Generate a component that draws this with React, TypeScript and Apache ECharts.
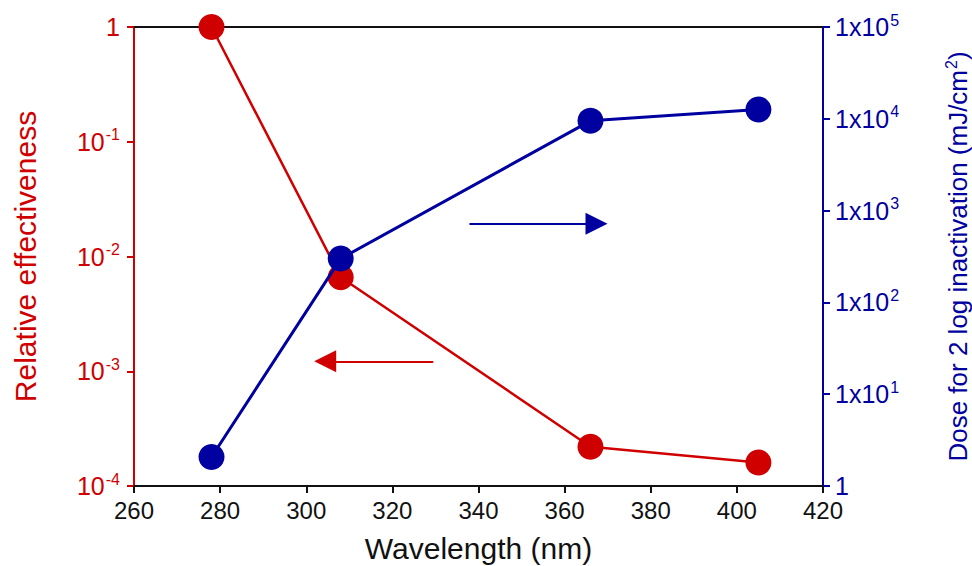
import React, { useEffect, useRef } from "react";
import * as echarts from "echarts";

const wavelengths = [278, 308, 366, 405];
const relativeEffectiveness = [1, 0.0066, 0.00022, 0.00016];
const doseFor2Log = [2.07, 300, 9500, 12600];

const xTicks = { min: 260, max: 420, interval: 20 };
const leftAxisRange = { min: 0.0001, max: 1 };
const rightAxisRange = { min: 1, max: 100000 };

// arrow annotations in data coordinates: tail x, head x, y
const redArrow = { from: 329.5, to: 304.4, y: 0.00122 };
const blueArrow = { from: 337.9, to: 367.4, y: 720 };

const RED = "#d00000";
const BLUE = "#0000a0";
const FONT = "Liberation Sans, Arial, sans-serif";

function supLeft(v: number): string {
  const e = Math.round(Math.log10(v));
  if (e === 0) return "{b|1}";
  return "{b|10}{s|" + e + "}";
}
function supRight(v: number): string {
  const e = Math.round(Math.log10(v));
  if (e === 0) return "{b|1}";
  return "{b|1x10}{s|" + e + "}";
}

export default function App() {
  const ref = useRef<HTMLDivElement>(null);
  useEffect(() => {
    if (!ref.current) return;
    const chart = echarts.init(ref.current, undefined, { renderer: "svg" });
    const richLabel = (color: string, size: number) => ({
      b: { fontSize: size, color, fontFamily: FONT },
      s: { fontSize: Math.round(size * 0.62), color, fontFamily: FONT, padding: [0, 0, 14, 1] },
    });
    chart.setOption({
      animation: false,
      backgroundColor: "#ffffff",
      grid: { left: 134, right: 149, top: 27, bottom: 80, outerBoundsMode: "none", containLabel: false },
      xAxis: [
        {
          type: "value",
          min: xTicks.min,
          max: xTicks.max,
          interval: xTicks.interval,
          position: "bottom",
          name: "Wavelength (nm)",
          nameLocation: "middle",
          nameGap: 47,
          nameTextStyle: { fontSize: 30, color: "#111", fontFamily: FONT },
          axisLine: { lineStyle: { color: "#111", width: 2 } },
          axisTick: { show: true, length: 7, lineStyle: { color: "#111", width: 2 } },
          axisLabel: { fontSize: 24, color: "#111", fontFamily: FONT, margin: 12 },
          splitLine: { show: false },
        },
        {
          type: "value",
          min: xTicks.min,
          max: xTicks.max,
          position: "top",
          axisLine: { lineStyle: { color: "#111", width: 2 } },
          axisTick: { show: false },
          axisLabel: { show: false },
          splitLine: { show: false },
        },
      ],
      yAxis: [
        {
          type: "log",
          logBase: 10,
          min: leftAxisRange.min,
          max: leftAxisRange.max,
          position: "left",
          name: "Relative effectiveness",
          nameLocation: "middle",
          nameRotate: 90,
          nameGap: 94,
          nameTextStyle: { fontSize: 30, color: RED, fontFamily: FONT },
          axisLine: { show: true, lineStyle: { color: RED, width: 2 } },
          axisTick: { show: true, length: 7, lineStyle: { color: RED, width: 2 } },
          axisLabel: {
            formatter: supLeft,
            rich: richLabel(RED, 25),
            margin: 14,
          },
          splitLine: { show: false },
        },
        {
          type: "log",
          logBase: 10,
          min: rightAxisRange.min,
          max: rightAxisRange.max,
          position: "right",
          name: "{b|Dose for 2 log inactivation (mJ/cm}{s|2}{b|)}",
          nameLocation: "middle",
          nameRotate: 90,
          nameGap: 120,
          nameTextStyle: {
            color: BLUE,
            fontFamily: FONT,
            fontSize: 26,
            rich: {
              b: { fontSize: 26, color: BLUE, fontFamily: FONT },
              s: { fontSize: 16, color: BLUE, fontFamily: FONT, padding: [0, 0, 14, 1] },
            },
          },
          axisLine: { show: true, lineStyle: { color: BLUE, width: 2 } },
          axisTick: { show: true, length: 7, lineStyle: { color: BLUE, width: 2 } },
          axisLabel: {
            formatter: supRight,
            rich: richLabel(BLUE, 25),
            margin: 12,
          },
          splitLine: { show: false },
        },
      ],
      series: [
        {
          type: "line",
          name: "Relative effectiveness",
          xAxisIndex: 0,
          yAxisIndex: 0,
          data: wavelengths.map((w, i) => [w, relativeEffectiveness[i]]),
          symbol: "circle",
          symbolSize: 26,
          itemStyle: { color: RED },
          lineStyle: { color: RED, width: 2.5 },
          markLine: {
            silent: true,
            symbol: ["none", "triangle"],
            symbolSize: [22, 22],
            label: { show: false },
            lineStyle: { color: RED, width: 2, type: "solid" },
            data: [[{ coord: [redArrow.from, redArrow.y] }, { coord: [redArrow.to, redArrow.y] }]],
          },
          z: 2,
        },
        {
          type: "line",
          name: "Dose",
          xAxisIndex: 0,
          yAxisIndex: 1,
          data: wavelengths.map((w, i) => [w, doseFor2Log[i]]),
          symbol: "circle",
          symbolSize: 26,
          itemStyle: { color: BLUE },
          lineStyle: { color: BLUE, width: 3 },
          markLine: {
            silent: true,
            symbol: ["none", "triangle"],
            symbolSize: [22, 22],
            label: { show: false },
            lineStyle: { color: BLUE, width: 2, type: "solid" },
            data: [[{ coord: [blueArrow.from, blueArrow.y] }, { coord: [blueArrow.to, blueArrow.y] }]],
          },
          z: 3,
        },
      ],
    });
    return () => chart.dispose();
  }, []);
  return <div ref={ref} style={{ width: 972, height: 566, position: "absolute", left: 0, top: 0 }} />;
}
